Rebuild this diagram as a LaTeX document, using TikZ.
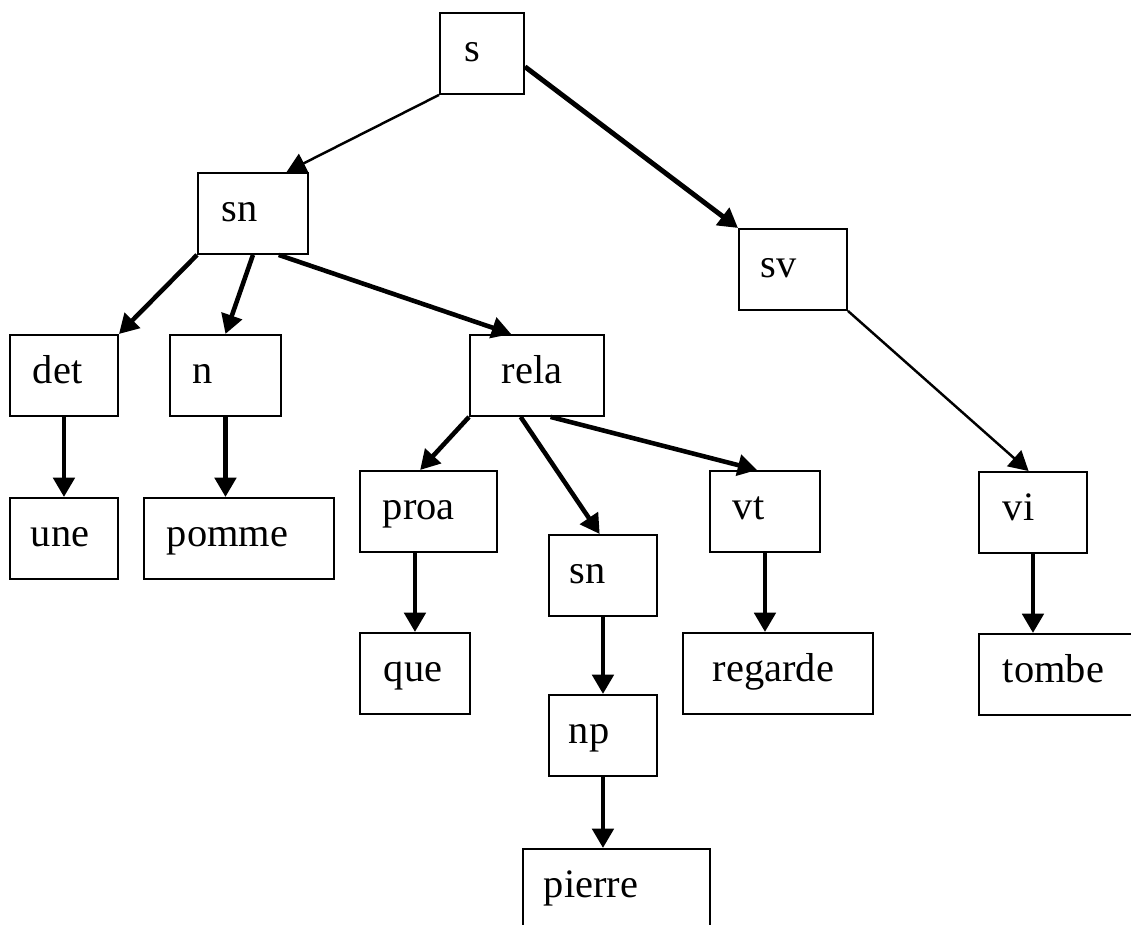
\documentclass[tikz,border=0pt]{standalone}
\usepackage{fontspec}
\setmainfont{Liberation Serif}
\usetikzlibrary{arrows.meta, calc}

\begin{document}
\begin{tikzpicture}[x=0.02cm, y=-0.02cm, font=\fontsize{23}{27}\selectfont,
  cat/.style 2 args={draw, line width=1.1pt, anchor=north west, inner ysep=0pt,
    text height=49*0.02cm, text depth=32*0.02cm,
    inner xsep=#2*0.02cm, text width=(#1-2*#2)*0.02cm, align=left},
  link/.style={line width=2.6pt, -{Triangle[length=11pt, width=12pt]}},
  thinlink/.style={link, line width=1.4pt}]
  \useasboundingbox (0,0) rectangle (1131,925);
  % --- level 0 and 1 ---
  \node[cat={84}{25}]  (s)  at (439,12)  {s};
  \node[cat={110}{24}] (sn) at (197,172) {sn};
  \node[cat={108}{22}] (sv) at (738,228) {sv};
  % --- level 2 ---
  \node[cat={108}{23}] (det)  at (9,334)   {det};
  \node[cat={111}{23}] (n)    at (169,334) {n};
  \node[cat={134}{32}] (rela) at (469,334) {rela};
  \node[cat={137}{23}] (proa) at (359,470) {proa};
  \node[cat={108}{21}] (sn2)  at (548,534) {sn};
  \node[cat={110}{23}] (vt)   at (709,470) {vt};
  \node[cat={108}{24}] (vi)   at (978,471) {vi};
  % --- words ---
  \node[cat={108}{21}] (une)     at (9,497)   {une};
  \node[cat={190}{23}] (pomme)   at (143,497) {pomme};
  \node[cat={110}{24}] (que)     at (359,632) {que};
  \node[cat={108}{20}] (np)      at (548,694) {np};
  \node[cat={190}{30}] (regarde) at (682,632) {regarde};
  \node[cat={190}{24}] (tombe)   at (978,633) {tombe};
  \node[cat={187}{21}] (pierre)  at (522,848) {pierre};
  % --- slanted links ---
  \draw[thinlink] (s.south west) -- ($(sn.north west)!0.8!(sn.north east)$);
  \draw[link, line width=2.8pt] ($(s.north east)!0.66!(s.south east)$) -- (sv.north west);
  \draw[link] (sn.south west) -- (det.north east);
  \draw[link] (sn.south) -- (n.north);
  \draw[link] ($(sn.south west)!0.73!(sn.south east)$) -- ($(rela.north west)!0.31!(rela.north east)$);
  \draw[link] (rela.south west) -- ($(proa.north west)!0.44!(proa.north east)$);
  \draw[link] ($(rela.south west)!0.38!(rela.south east)$) -- ($(sn2.north west)!0.47!(sn2.north east)$);
  \draw[link] ($(rela.south west)!0.6!(rela.south east)$) -- ($(vt.north west)!0.43!(vt.north east)$);
  \draw[thinlink] (sv.south east) -- ($(vi.north west)!0.46!(vi.north east)$);
  % --- straight links ---
  \foreach \a/\b in {det/une, n/pomme, sn2/np, vt/regarde, np/pierre, vi/tombe}
    \draw[link] (\a.south) -- (\a.south |- \b.north);
  \draw[link] (que.north |- proa.south) -- (que.north);
\end{tikzpicture}
\end{document}
